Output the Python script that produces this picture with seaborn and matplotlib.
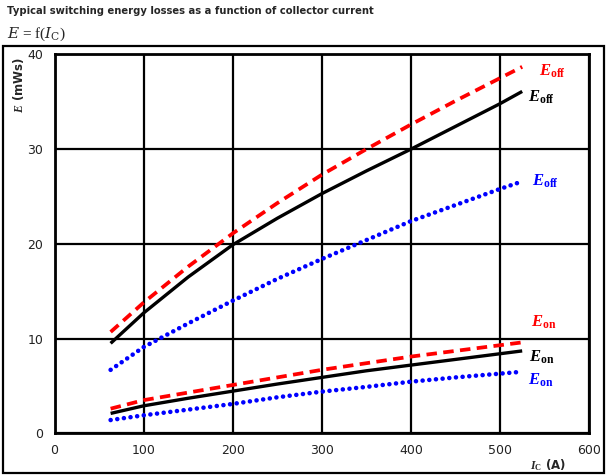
import matplotlib
matplotlib.use("Agg")
import matplotlib.pyplot as plt
import seaborn as sns
import pandas as pd
from matplotlib.patches import Rectangle

# Collector current (A)
ic = [63, 100, 150, 200, 250, 300, 350, 400, 450, 500, 525]

# Switching energies (mWs)
eoff_black = [9.5, 12.7, 16.5, 19.9, 22.7, 25.3, 27.7, 30.0, 32.4, 34.8, 36.1]
eoff_red = [10.7, 13.8, 17.6, 21.1, 24.3, 27.3, 30.0, 32.6, 35.1, 37.5, 38.7]
eoff_blue = [6.7, 9.1, 11.6, 14.0, 16.3, 18.4, 20.4, 22.4, 24.1, 25.8, 26.6]
eon_black = [2.1, 2.9, 3.7, 4.45, 5.2, 5.9, 6.6, 7.2, 7.8, 8.4, 8.7]
eon_red = [2.6, 3.5, 4.3, 5.1, 5.9, 6.7, 7.4, 8.1, 8.7, 9.3, 9.6]
eon_blue = [1.4, 1.9, 2.5, 3.1, 3.8, 4.4, 4.9, 5.45, 5.9, 6.3, 6.5]

x_ticks = [0, 100, 200, 300, 400, 500, 600]
y_ticks = [0, 10, 20, 30, 40]

sns.set_style("white")
plt.rcParams["mathtext.fontset"] = "custom"
plt.rcParams["mathtext.rm"] = "Liberation Serif:bold"
plt.rcParams["mathtext.it"] = "Liberation Serif:bold:italic"
plt.rcParams["mathtext.bf"] = "Liberation Serif:bold"

fig = plt.figure(figsize=(6.07, 4.76), dpi=100)
ax = fig.add_axes([54.5 / 607, 1 - 433.3 / 476, (589 - 54.5) / 607, (433.3 - 54.5) / 476])

df = pd.DataFrame({"ic": ic})
series = [
    (eoff_red, "red", "dashed"),
    (eoff_black, "black", "solid"),
    (eoff_blue, "blue", "dotted"),
    (eon_red, "red", "dashed"),
    (eon_black, "black", "solid"),
    (eon_blue, "blue", "dotted"),
]
for vals, color, style in series:
    df["e"] = vals
    if style == "solid":
        sns.lineplot(data=df, x="ic", y="e", ax=ax, color=color, lw=2.4,
                     solid_capstyle="butt", zorder=3)
    elif style == "dashed":
        sns.lineplot(data=df, x="ic", y="e", ax=ax, color=color, lw=2.7,
                     zorder=3)
        ax.lines[-1].set_linestyle((0, (2.8, 1.7)))
    else:
        sns.lineplot(data=df, x="ic", y="e", ax=ax, color=color, lw=3.3,
                     zorder=3)
        ax.lines[-1].set_linestyle((0, (0.01, 1.45)))
        ax.lines[-1].set_dash_capstyle("round")

ax.set_xlim(0, 600)
ax.set_ylim(0, 40)
ax.set_xticks(x_ticks)
ax.set_yticks(y_ticks)
ax.set_xticklabels([str(v) for v in x_ticks])
ax.set_yticklabels([str(v) for v in y_ticks])
ax.tick_params(length=0, labelsize=9, labelcolor="#222222", pad=8)
ax.tick_params(axis="y", pad=8)
ax.grid(True, color="black", lw=1.6, zorder=1)
ax.set_axisbelow(True)
for s in ax.spines.values():
    s.set_color("black")
    s.set_linewidth(2)
ax.set_xlabel("")
ax.set_ylabel("")

# Curve labels
labels = [
    (544, 38.3, r"$E_{\mathrm{off}}$", "red"),
    (532, 35.5, r"$E_{\mathrm{off}}$", "black"),
    (536, 26.6, r"$E_{\mathrm{off}}$", "blue"),
    (535, 11.8, r"$E_{\mathrm{on}}$", "red"),
    (533, 8.1, r"$E_{\mathrm{on}}$", "black"),
    (532, 5.6, r"$E_{\mathrm{on}}$", "blue"),
]
for x, y, txt, c in labels:
    ax.text(x, y, txt, color=c, fontsize=12, ha="left", va="center", zorder=4)

# Titles and axis captions
fig.text(7 / 607, 1 - 11 / 476, "Typical switching energy losses as a function of collector current",
         fontsize=7.2, fontweight="bold", ha="left", va="center", family="DejaVu Sans")
fig.text(7 / 607, 1 - 34 / 476, r"$E$ = f($I_{\mathrm{C}}$)", fontsize=11, ha="left", va="center",
         family="Liberation Serif", math_fontfamily="dejavuserif")
fig.text(18 / 607, 1 - 57 / 476, r"$E$ (mWs)", rotation=90, fontsize=8.5, fontweight="bold",
         ha="center", va="top", family="DejaVu Sans")
fig.text(548 / 607, 1 - 465 / 476, r"$I_{\mathrm{C}}$ (A)", fontsize=8.5, fontweight="bold",
         ha="center", va="center", family="DejaVu Sans")

fig.patches.append(Rectangle((3 / 607, 3 / 476), 601 / 607, 427 / 476,
                             transform=fig.transFigure, fill=False, edgecolor="black", lw=1.6))

fig.savefig("out.png", dpi=100)
